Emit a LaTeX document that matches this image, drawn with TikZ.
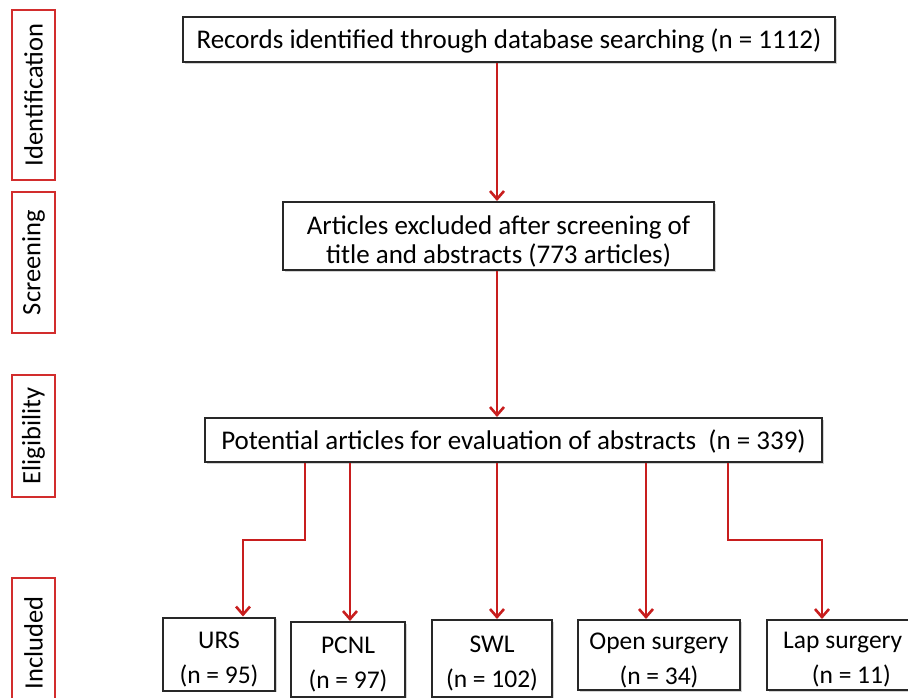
\documentclass[tikz,border=0pt]{standalone}
\usepackage{fontspec}
\setmainfont{Carlito}
\usetikzlibrary{arrows.meta,shadows}
\definecolor{flowred}{RGB}{200,30,30}
\definecolor{labred}{RGB}{210,45,45}
\definecolor{boxline}{RGB}{40,40,40}
\tikzset{
  box/.style={draw=boxline, line width=2pt, fill=white, inner sep=0pt, align=center,
    drop shadow={opacity=0.35, shadow xshift=1.5pt, shadow yshift=-1.5pt},
    font=\fontsize{27}{30}\selectfont},
  txt/.style={inner sep=0pt, align=center, font=\fontsize{27}{29}\selectfont},
  stxt/.style={inner sep=0pt, align=center, font=\fontsize{25.5}{35}\selectfont},
  stagebox/.style={draw=labred, line width=1.6pt, rotate=90, inner sep=0pt, minimum height=43pt, font=\fontsize{26.5}{30}\selectfont},
  arr/.style={draw=flowred, line width=2.8pt, -{Straight Barb[length=8pt,width=14pt,line width=2.6pt]}},
}
\begin{document}
\begin{tikzpicture}[x=1pt,y=1pt]
\useasboundingbox (0,0) rectangle (908,-697);
% stage labels
\node[stagebox, minimum width=170pt] (s1) at (33.5,-95) {Identification};
\node[stagebox, minimum width=141pt] (s2) at (33.5,-262.5) {Screening};
\node[stagebox, minimum width=122pt] (s3) at (33.5,-436) {Eligibility};
\node[stagebox, minimum width=130pt] (s4) at (33.5,-643) {Included};
% main boxes
\node[box, minimum width=652pt, minimum height=45pt] (a) at (509,-39.5) {};
\node[txt] at ([yshift=-1.5pt]a.center) {Records identified through database searching (n = 1112)};
\node[box, minimum width=431pt, minimum height=68pt] (b) at (498.5,-236) {};
\node[txt] at ([yshift=-5pt]b.center) {Articles excluded after screening of\\title and abstracts (773 articles)};
\node[box, minimum width=617pt, minimum height=44pt] (c) at (513.5,-440) {};
\node[txt] at ([yshift=-1.5pt]c.center) {Potential articles for evaluation of abstracts\ \ (n = 339)};
% bottom boxes
\node[box, minimum width=112pt, minimum height=73pt] (urs) at (219,-654) {};
\node[stxt] at ([yshift=-5pt]urs.center) {URS\\(n = 95)};
\node[box, minimum width=114pt, minimum height=75pt] (pcnl) at (348,-659.5) {};
\node[stxt] at ([yshift=-5pt]pcnl.center) {PCNL\\(n = 97)};
\node[box, minimum width=120pt, minimum height=77pt] (swl) at (492,-658.5) {};
\node[stxt] at ([yshift=-5pt]swl.center) {SWL\\(n = 102)};
\node[box, minimum width=162pt, minimum height=70pt] (open) at (659,-655) {};
\node[stxt] at ([yshift=-5pt]open.center) {Open surgery\\(n = 34)};
\node[box, minimum width=150pt, minimum height=70pt, anchor=west] (lap) at (766,-655) {};
\node[stxt, anchor=west] at ([xshift=17pt,yshift=-5pt]lap.west) {Lap surgery\\\ \ \ (n = 11)};
% connectors
\coordinate (ab) at (497,0);
\draw[arr] (a.south -| ab) -- (b.north -| ab);
\draw[arr] (b.south -| ab) -- (c.north -| ab);
\coordinate (e1) at (305,-540);
\coordinate (t1) at (243,-540);
\draw[arr] (c.south -| e1) -- (e1) -- (t1) -- (urs.north -| t1);
\coordinate (t2) at (350,0);
\draw[arr] (c.south -| t2) -- (pcnl.north -| t2);
\coordinate (t3) at (497,0);
\draw[arr] (c.south -| t3) -- (swl.north -| t3);
\coordinate (t4) at (646,0);
\draw[arr] (c.south -| t4) -- (open.north -| t4);
\coordinate (e5) at (728,-540);
\coordinate (t5) at (822,-540);
\draw[arr] (c.south -| e5) -- (e5) -- (t5) -- (lap.north -| t5);
\end{tikzpicture}
\end{document}
